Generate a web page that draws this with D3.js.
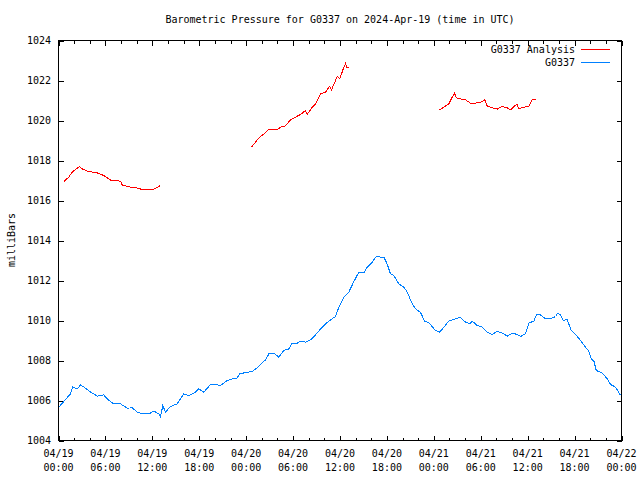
<!DOCTYPE html>
<html><head><meta charset="utf-8">
<script src="https://cdn.jsdelivr.net/npm/d3@7"></script>
<style>
body{margin:0;background:#fff}
text{font-family:"DejaVu Sans Mono",monospace;font-size:10px;fill:#000}
</style>
</head><body><svg id="c" width="640" height="480"></svg>
<script>
const titleText = "Barometric Pressure for G0337 on 2024-Apr-19 (time in UTC)";
const yAxisLabel = "milliBars";
const startTime = "2024-04-19T00:00:00Z";
const endTime = "2024-04-22T00:00:00Z";
const yTickValues = [1004,1006,1008,1010,1012,1014,1016,1018,1020,1022,1024];
const seriesNames = ["G0337 Analysis","G0337"];
const seriesColors = ["#ff0000","#0080ff"];

// hours since 2024-04-19 00:00 UTC; null value = gap
const analysisHours = [0.68,1.32,1.75,2.17,2.72,3.03,3.67,4.95,5.79,6.74,7.93,8.15,8.79,10.07,10.91,12.19,13.04,
  18,
  24.72,25.19,25.74,26.26,26.77,27.97,28.39,29.03,29.67,30.31,30.95,31.59,31.81,32.45,32.87,33.51,34.15,34.66,34.91,35.64,35.98,36.49,36.74,36.83,37.09,
  42,
  48.76,49.28,49.92,50.35,50.65,50.86,51.41,52.05,52.69,53.33,53.97,54.52,54.83,55.47,56.11,56.75,57.39,57.81,58.23,58.66,58.87,59.51,60.15,60.58,61.13];
const analysisMb = [1016.95,1017.17,1017.42,1017.55,1017.7,1017.58,1017.47,1017.38,1017.25,1017.0,1016.97,1016.78,1016.7,1016.62,1016.53,1016.57,1016.75,
  null,
  1018.68,1018.92,1019.17,1019.33,1019.53,1019.53,1019.67,1019.73,1020.03,1020.17,1020.3,1020.5,1020.3,1020.67,1020.83,1021.33,1021.42,1021.7,1021.53,1022.2,1022.08,1022.67,1022.87,1022.63,1022.63,
  null,
  1020.53,1020.67,1020.83,1021.17,1021.37,1021.13,1021.08,1021.03,1020.87,1020.87,1020.92,1021.03,1020.72,1020.63,1020.57,1020.7,1020.63,1020.53,1020.7,1020.8,1020.58,1020.67,1020.7,1021.03,1021.08];

const stationHours = [0,1.53,1.83,2.39,2.81,3.24,4.09,4.95,5.79,6.23,
  7.07,7.93,8.79,9.43,10.07,10.7,11.55,12.19,12.83,13.04,
  13.34,13.68,14.32,15.18,16.02,16.66,17.52,17.94,18.58,19.44,
  20.08,20.72,21.57,22.21,22.85,23.19,23.92,24.81,25.58,26.47,
  26.9,27.53,28.17,28.81,29.45,29.89,30.53,30.95,31.59,32.23,
  32.87,33.51,34.15,34.79,35.43,35.85,36.49,37.13,37.69,38.41,
  39.05,39.48,40.12,40.63,41.18,41.6,42.03,42.46,42.88,43.52,
  44.16,44.6,45.24,45.66,46.3,46.85,47.36,48.21,48.76,49.28,
  49.92,50.77,51.32,52.05,52.6,52.9,53.54,54.18,54.83,55.47,
  56.11,56.95,57.39,58.03,58.66,59.08,59.72,60.15,60.79,61.13,
  61.64,62.28,62.92,63.56,63.86,64.2,64.54,65.05,65.57,66.12,
  66.76,67.4,67.82,68.13,68.47,68.77,69.54,70.18,70.6,71.24,
  71.8,72];
const stationMb = [1005.65,1006.33,1006.67,1006.58,1006.78,1006.67,1006.42,1006.22,1006.28,1006.08,
  1005.83,1005.83,1005.62,1005.63,1005.42,1005.33,1005.33,1005.47,1005.33,1005.17,
  1005.75,1005.42,1005.7,1005.83,1006.33,1006.25,1006.42,1006.58,1006.42,1006.8,
  1006.8,1006.75,1007.0,1007.08,1007.13,1007.33,1007.4,1007.45,1007.7,1008.03,
  1008.33,1008.37,1008.17,1008.5,1008.58,1008.87,1008.87,1008.97,1008.92,1009.03,
  1009.28,1009.58,1009.83,1010.03,1010.2,1010.67,1011.17,1011.42,1011.88,1012.42,
  1012.38,1012.67,1012.92,1013.2,1013.17,1013.17,1012.83,1012.33,1012.25,1011.83,
  1011.67,1011.42,1010.83,1010.58,1010.4,1009.95,1009.9,1009.5,1009.42,1009.67,
  1009.97,1010.08,1010.17,1009.92,1009.83,1009.97,1009.75,1009.67,1009.42,1009.3,
  1009.47,1009.33,1009.22,1009.37,1009.3,1009.2,1009.33,1009.87,1009.97,1010.28,
  1010.28,1010.08,1010.08,1010.2,1010.38,1010.28,1010.0,1010.05,1009.5,1009.3,
  1009.0,1008.67,1008.47,1008.08,1007.97,1007.5,1007.37,1007.08,1006.8,1006.67,
  1006.3,1006.25];

const svg = d3.select("#c");
const L = 58.5, R = 621.5, T = 40.5, B = 440.5;
const t0 = new Date(startTime), t1 = new Date(endTime);
const x = d3.scaleUtc().domain([t0, t1]).range([L, R]);
const y = d3.scaleLinear().domain([1004, 1024]).range([B, T]);
const toDate = h => new Date(t0.getTime() + h * 3600e3);

svg.append("rect").attr("width", 640).attr("height", 480).attr("fill", "#fff");

const majorTicks = d3.utcHour.every(6).range(t0, new Date(t1.getTime() + 1));
const minorTicks = d3.utcHour.every(2).range(t0, new Date(t1.getTime() + 1)).filter(d => d.getUTCHours() % 6 !== 0);

function styleAxis(g) {
  g.select(".domain").remove();
  g.selectAll("line").attr("stroke", "#000").attr("shape-rendering", "crispEdges");
  g.selectAll("text").remove();
}
svg.append("g").attr("transform", `translate(0,${B})`).call(d3.axisBottom(x).tickValues(majorTicks).tickSize(-5)).call(styleAxis);
svg.append("g").attr("transform", `translate(0,${B})`).call(d3.axisBottom(x).tickValues(minorTicks).tickSize(-3)).call(styleAxis);
svg.append("g").attr("transform", `translate(0,${T})`).call(d3.axisTop(x).tickValues(majorTicks).tickSize(-5)).call(styleAxis);
svg.append("g").attr("transform", `translate(0,${T})`).call(d3.axisTop(x).tickValues(minorTicks).tickSize(-3)).call(styleAxis);
svg.append("g").attr("transform", `translate(${L},0)`).call(d3.axisLeft(y).tickValues(yTickValues).tickSize(-5)).call(styleAxis);
svg.append("g").attr("transform", `translate(${R},0)`).call(d3.axisRight(y).tickValues(yTickValues).tickSize(-5)).call(styleAxis);

svg.append("rect").attr("x", L).attr("y", T).attr("width", R - L).attr("height", B - T)
  .attr("fill", "none").attr("stroke", "#000").attr("shape-rendering", "crispEdges");

// tick labels
const fmtD = d3.utcFormat("%m/%d"), fmtH = d3.utcFormat("%H:%M");
majorTicks.forEach(t => {
  const tx = svg.append("text").attr("text-anchor", "middle");
  tx.append("tspan").attr("x", x(t)).attr("y", 457).text(fmtD(t));
  tx.append("tspan").attr("x", x(t)).attr("y", 471).text(fmtH(t));
});
yTickValues.forEach(v => {
  svg.append("text").attr("x", 51).attr("y", y(v) + 3.5).attr("text-anchor", "end").text(v);
});

svg.append("text").attr("x", (L + R) / 2).attr("y", 23).attr("text-anchor", "middle").text(titleText);
svg.append("text").attr("transform", "translate(15,240) rotate(-90)").attr("text-anchor", "middle").text(yAxisLabel);

const line = d3.line().defined(d => d.v != null).x(d => x(toDate(d.h))).y(d => y(d.v));
const analysis = analysisHours.map((h, i) => ({h, v: analysisMb[i]}));
const station = stationHours.map((h, i) => ({h, v: stationMb[i]}));
svg.append("path").datum(analysis).attr("d", line).attr("fill", "none").attr("stroke", seriesColors[0]).attr("stroke-width", 1).attr("shape-rendering", "crispEdges");
svg.append("path").datum(station).attr("d", line).attr("fill", "none").attr("stroke", seriesColors[1]).attr("stroke-width", 1).attr("shape-rendering", "crispEdges");

// legend
seriesNames.forEach((n, i) => {
  const ly = 49.5 + i * 13;
  svg.append("text").attr("x", 575).attr("y", ly + 3.5).attr("text-anchor", "end").text(n);
  svg.append("line").attr("x1", 581).attr("x2", 610).attr("y1", ly).attr("y2", ly)
    .attr("stroke", seriesColors[i]).attr("shape-rendering", "crispEdges");
});
</script></body></html>
